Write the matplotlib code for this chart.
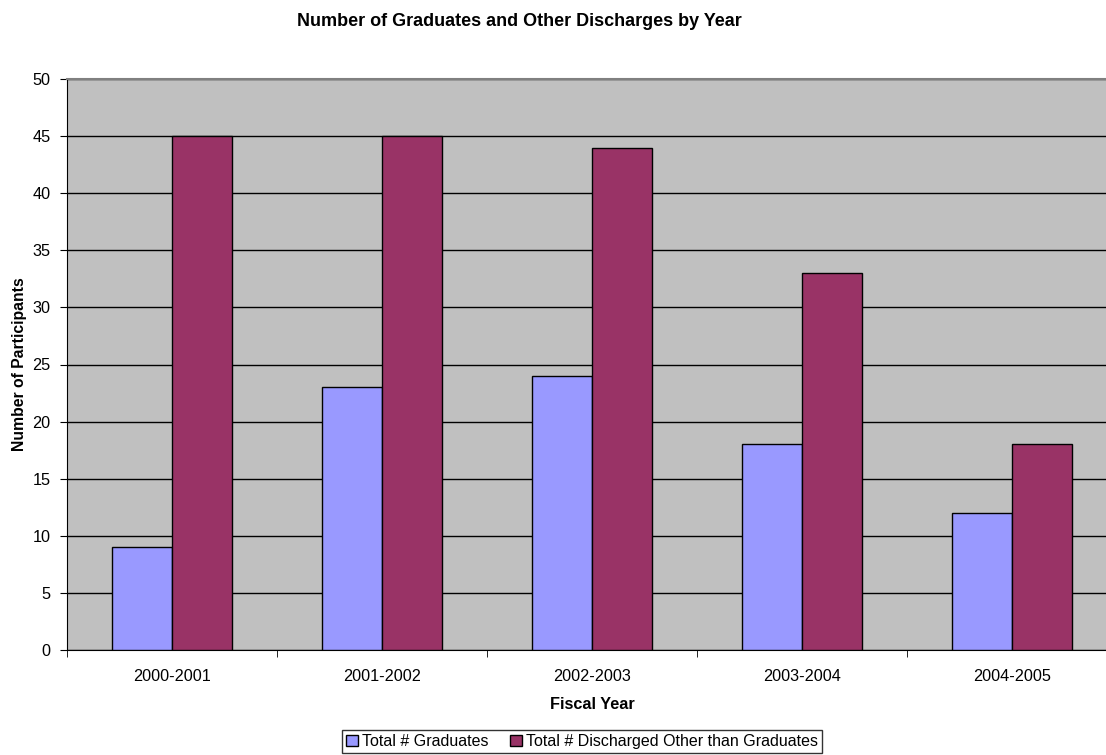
import numpy as np
import matplotlib.pyplot as plt

plt.rcParams['font.family'] = ['Liberation Sans', 'DejaVu Sans']

years = ['2000-2001', '2001-2002', '2002-2003', '2003-2004', '2004-2005']
graduates = [9, 23, 24, 18, 12]
discharged = [45, 45, 44, 33, 18]

fig = plt.figure(figsize=(11.06, 7.55), dpi=100)
ax = fig.add_axes([67/1106, 105/755, 1050/1106, 571/755])
ax.set_facecolor('#C0C0C0')

x = np.arange(len(years))
w = 60/210
ax.bar(x - w/2, graduates, w, color='#9999FF', edgecolor='black', linewidth=1,
       label='Total # Graduates', zorder=3)
ax.bar(x + w/2, discharged, w, color='#993366', edgecolor='black', linewidth=1,
       label='Total # Discharged Other than Graduates', zorder=3)

ax.set_xlim(-0.5, len(years) - 0.5)
ax.set_ylim(0, 50)
ax.set_yticks(range(0, 51, 5))
ax.yaxis.grid(True, color='black', linewidth=1)
ax.set_axisbelow(True)

ax.set_xticks(x)
ax.set_xticklabels(years, fontsize=11.7)
ax.set_xticks(np.arange(-0.5, len(years), 1), minor=True)
ax.tick_params(axis='x', which='major', length=0, pad=14)
ax.tick_params(axis='x', which='minor', length=5, direction='out', color='black')
ax.tick_params(axis='y', length=5, direction='out', labelsize=11.7, pad=7)

ax.spines['right'].set_visible(False)
ax.spines['top'].set_color('#808080')
ax.spines['top'].set_linewidth(1.5)
ax.spines['left'].set_color('black')
ax.spines['bottom'].set_color('black')

ax.set_xlabel('Fiscal Year', fontsize=11.7, fontweight='bold', labelpad=9)
ax.set_ylabel('Number of Participants', fontsize=11.3, fontweight='bold', labelpad=4)
fig.text(519/1106, 1 - 21/755, 'Number of Graduates and Other Discharges by Year',
         ha='center', va='center', fontsize=13, fontweight='bold')

leg = fig.legend(loc='upper center', bbox_to_anchor=(582/1106, 1 - 730/755), ncol=2,
                 frameon=True, fancybox=False, edgecolor='black', fontsize=11.5,
                 handlelength=0.75, handleheight=0.75, handletextpad=0.25,
                 columnspacing=1.3, borderpad=0.25, borderaxespad=0)
leg.get_frame().set_linewidth(1)

fig.savefig('out.png', dpi=100)
